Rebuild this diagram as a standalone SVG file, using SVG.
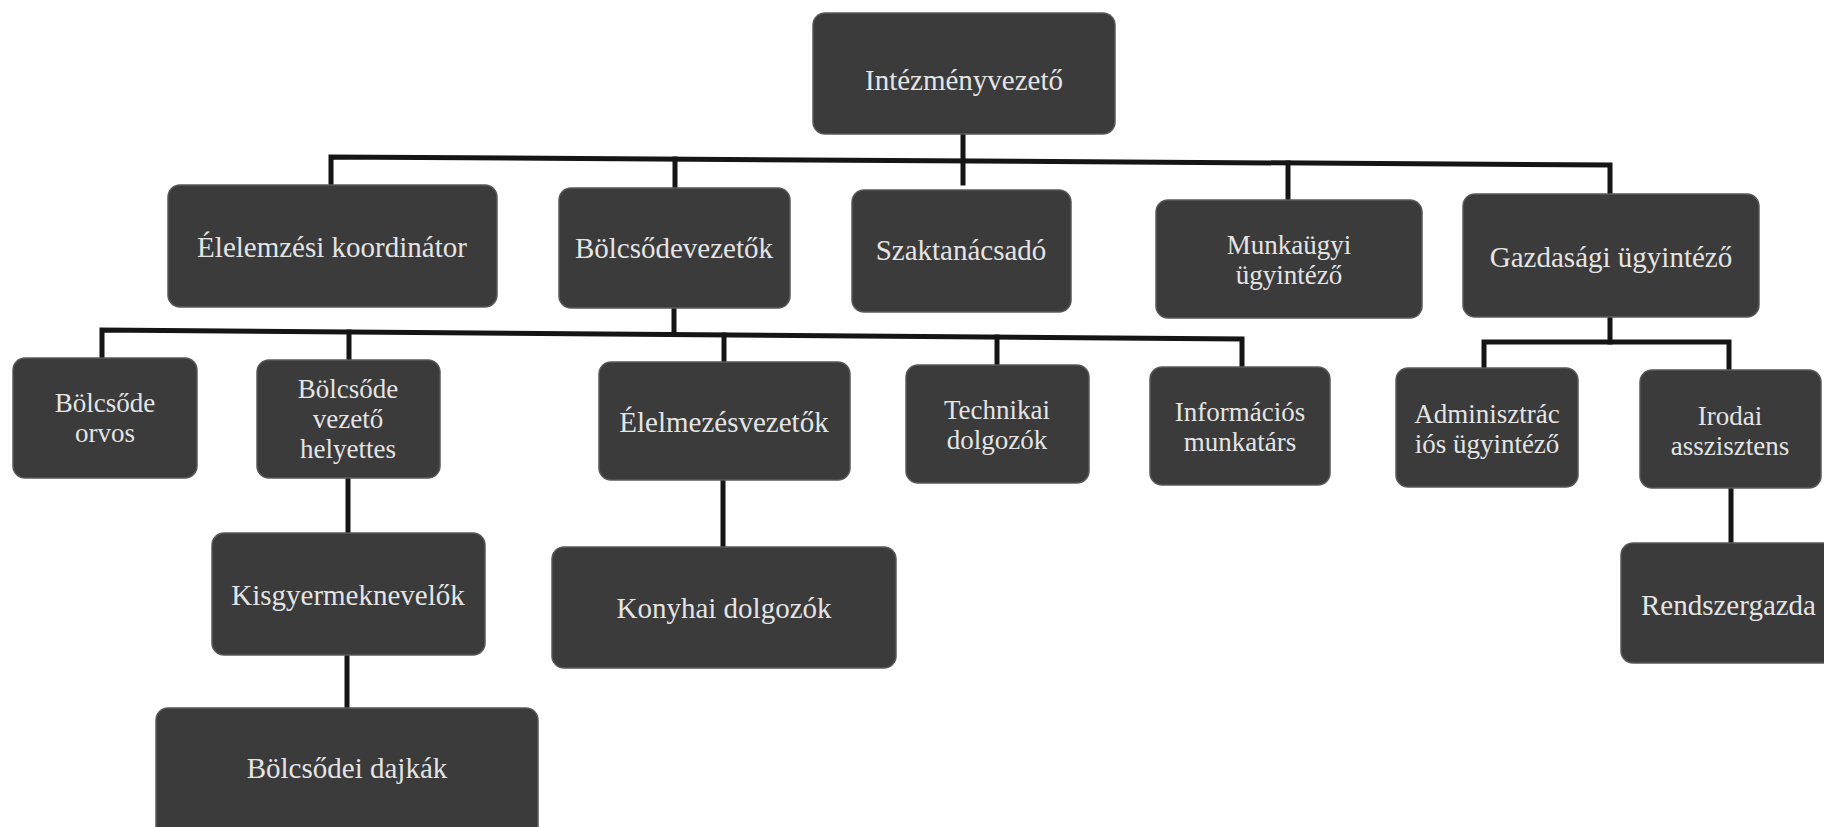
<svg xmlns="http://www.w3.org/2000/svg" width="1824" height="827" viewBox="0 0 1824 827">
<style>
.box{fill:#3b3b3b;stroke:#5a5a5a;stroke-width:1.5}
.t{font-family:"Liberation Serif","Times New Roman",serif;font-size:29px;fill:#e4e4e4;text-anchor:middle;dominant-baseline:central}
.m{font-size:27px}
.c{stroke:#151515;stroke-width:5;fill:none;stroke-linecap:square;stroke-linejoin:miter}
</style>
<rect width="1824" height="827" fill="#ffffff"/>
<g id="connectors">
<path class="c" d="M963,134 V183"/>
<path class="c" d="M331,185 V157 L1610,165 V194"/>
<path class="c" d="M675,159 V188"/>
<path class="c" d="M1288,163 V200"/>
<path class="c" d="M674,308 V333"/>
<path class="c" d="M102,358 V330 L1242,339 V367"/>
<path class="c" d="M349,332 V360"/>
<path class="c" d="M724,335 V362"/>
<path class="c" d="M997,337 V365"/>
<path class="c" d="M1610,317 V342"/>
<path class="c" d="M1484,368 V342 H1729 V370"/>
<path class="c" d="M348,480 V533"/>
<path class="c" d="M347,655 V708"/>
<path class="c" d="M723,480 V547"/>
<path class="c" d="M1731,488 V543"/>
</g>
<g id="n-intezmenyvezeto"><rect class="box" x="813" y="13" width="302" height="121" rx="12"/><text class="t" x="964" y="80">Intézményvezető</text></g>
<g id="n-elelemzesi"><rect class="box" x="168" y="185" width="329" height="122" rx="12"/><text class="t" x="332" y="247">Élelemzési koordinátor</text></g>
<g id="n-bolcsodevezetok"><rect class="box" x="559" y="188" width="231" height="120" rx="12"/><text class="t" x="674" y="248">Bölcsődevezetők</text></g>
<g id="n-szaktanacsado"><rect class="box" x="852" y="190" width="219" height="122" rx="12"/><text class="t" x="961" y="250">Szaktanácsadó</text></g>
<g id="n-munkaugyi"><rect class="box" x="1156" y="200" width="266" height="118" rx="12"/><text class="t m" x="1289" y="245">Munkaügyi</text><text class="t m" x="1289" y="275">ügyintéző</text></g>
<g id="n-gazdasagi"><rect class="box" x="1463" y="194" width="296" height="123" rx="12"/><text class="t" x="1611" y="257">Gazdasági ügyintéző</text></g>
<g id="n-orvos"><rect class="box" x="13" y="358" width="184" height="120" rx="12"/><text class="t m" x="105" y="403">Bölcsőde</text><text class="t m" x="105" y="433">orvos</text></g>
<g id="n-helyettes"><rect class="box" x="257" y="360" width="183" height="118" rx="12"/><text class="t m" x="348" y="389">Bölcsőde</text><text class="t m" x="348" y="419">vezető</text><text class="t m" x="348" y="449">helyettes</text></g>
<g id="n-elelmezesvezetok"><rect class="box" x="599" y="362" width="251" height="118" rx="12"/><text class="t" x="724" y="422">Élelmezésvezetők</text></g>
<g id="n-technikai"><rect class="box" x="906" y="365" width="183" height="118" rx="12"/><text class="t m" x="997" y="410">Technikai</text><text class="t m" x="997" y="440">dolgozók</text></g>
<g id="n-informacios"><rect class="box" x="1150" y="367" width="180" height="118" rx="12"/><text class="t m" x="1240" y="412">Információs</text><text class="t m" x="1240" y="442">munkatárs</text></g>
<g id="n-adminisztracios"><rect class="box" x="1396" y="368" width="182" height="119" rx="12"/><text class="t m" x="1487" y="414">Adminisztrác</text><text class="t m" x="1487" y="444">iós ügyintéző</text></g>
<g id="n-irodai"><rect class="box" x="1640" y="370" width="181" height="118" rx="12"/><text class="t m" x="1730" y="416">Irodai</text><text class="t m" x="1730" y="446">asszisztens</text></g>
<g id="n-kisgyermeknevelok"><rect class="box" x="212" y="533" width="273" height="122" rx="12"/><text class="t" x="348" y="595">Kisgyermeknevelők</text></g>
<g id="n-dajkak"><rect class="box" x="156" y="708" width="382" height="135" rx="12"/><text class="t" x="347" y="768">Bölcsődei dajkák</text></g>
<g id="n-konyhai"><rect class="box" x="552" y="547" width="344" height="121" rx="12"/><text class="t" x="724" y="608">Konyhai dolgozók</text></g>
<g id="n-rendszergazda"><rect class="box" x="1621" y="543" width="240" height="120" rx="12"/><text class="t" x="1641" y="605" style="text-anchor:start">Rendszergazda</text></g>
</svg>
